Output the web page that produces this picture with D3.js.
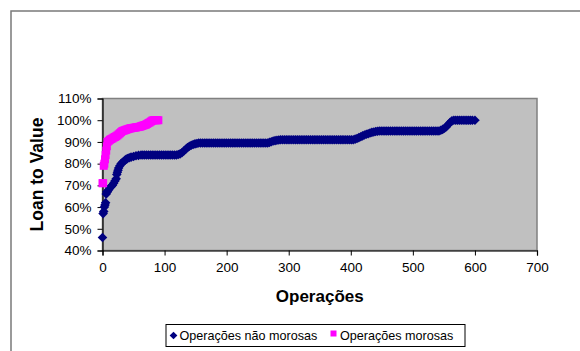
<!DOCTYPE html>
<html>
<head>
<meta charset="utf-8">
<script src="https://cdn.jsdelivr.net/npm/d3@7"></script>
<style>
  html, body { margin: 0; padding: 0; background: #ffffff; }
  svg { display: block; }
  text { font-family: "Liberation Sans", Arial, sans-serif; fill: #000; }
</style>
</head>
<body>
<svg id="chart" width="580" height="351"></svg>
<script>
// Loan-to-value per operation, sorted ascending
const naoMorosasOps = [
  0, 1, 2, 3, 4, 5, 6, 7, 8, 10, 12, 14, 16, 18, 20, 22, 23, 24, 25, 26,
  28, 30, 32, 34, 36, 38, 40, 43, 46, 50, 54, 58,
  62, 65, 68, 71, 74, 77, 80, 83, 86, 89, 92, 95, 98, 101, 104, 107, 110, 113, 116, 119,
  122, 125, 128, 131, 134, 137, 140, 143, 146, 149, 152, 155,
  158, 161, 164, 167, 170, 173, 176, 179, 182, 185, 188, 191, 194, 197, 200, 203, 206, 209, 212, 215,
  218, 221, 224, 227, 230, 233, 236, 239, 242, 245, 248, 251, 254, 257, 260, 263, 266,
  269, 272, 275, 278, 281, 284, 287,
  290, 293, 296, 299, 302, 305, 308, 311, 314, 317, 320, 323, 326, 329, 332, 335, 338, 341, 344, 347,
  350, 353, 356, 359, 362, 365, 368, 371, 374, 377, 380, 383, 386, 389, 392, 395, 398, 401, 404,
  407, 410, 413, 416, 419, 422, 425, 428, 431, 434, 437, 440, 443, 446,
  449, 452, 455, 458, 461, 464, 467, 470, 473, 476, 479, 482, 485, 488, 491, 494, 497, 500, 503, 506,
  509, 512, 515, 518, 521, 524, 527, 530, 533, 536, 539, 542,
  545, 548, 551, 554, 557, 560, 563, 566,
  569, 572, 575, 578, 581, 584, 587, 590, 593, 596, 600
];
const naoMorosasLtv = [
  0.46, 0.57, 0.58, 0.60, 0.61, 0.62, 0.66, 0.67, 0.67, 0.68, 0.69, 0.695, 0.70, 0.71, 0.72, 0.73, 0.75, 0.76, 0.77, 0.78,
  0.79, 0.80, 0.805, 0.81, 0.815, 0.82, 0.823, 0.827, 0.83, 0.833, 0.836, 0.838,
  0.84, 0.84, 0.84, 0.84, 0.84, 0.84, 0.84, 0.84, 0.84, 0.84, 0.84, 0.84, 0.84, 0.84, 0.84, 0.84, 0.84, 0.84, 0.84, 0.84,
  0.842, 0.845, 0.85, 0.858, 0.866, 0.874, 0.88, 0.885, 0.888, 0.891, 0.893, 0.895,
  0.895, 0.895, 0.895, 0.895, 0.895, 0.895, 0.895, 0.895, 0.895, 0.895, 0.895, 0.895, 0.895, 0.895, 0.895, 0.895, 0.895, 0.895, 0.895, 0.895,
  0.895, 0.895, 0.895, 0.895, 0.895, 0.895, 0.895, 0.895, 0.895, 0.895, 0.895, 0.895, 0.895, 0.895, 0.895, 0.895, 0.895,
  0.898, 0.901, 0.904, 0.906, 0.908, 0.909, 0.91,
  0.91, 0.91, 0.91, 0.91, 0.91, 0.91, 0.91, 0.91, 0.91, 0.91, 0.91, 0.91, 0.91, 0.91, 0.91, 0.91, 0.91, 0.91, 0.91, 0.91,
  0.91, 0.91, 0.91, 0.91, 0.91, 0.91, 0.91, 0.91, 0.91, 0.91, 0.91, 0.91, 0.91, 0.91, 0.91, 0.91, 0.91, 0.91, 0.91,
  0.913, 0.916, 0.92, 0.924, 0.928, 0.932, 0.935, 0.938, 0.941, 0.944, 0.946, 0.948, 0.949, 0.95,
  0.95, 0.95, 0.95, 0.95, 0.95, 0.95, 0.95, 0.95, 0.95, 0.95, 0.95, 0.95, 0.95, 0.95, 0.95, 0.95, 0.95, 0.95, 0.95, 0.95,
  0.95, 0.95, 0.95, 0.95, 0.95, 0.95, 0.95, 0.95, 0.95, 0.95, 0.95, 0.95,
  0.954, 0.958, 0.963, 0.97, 0.98, 0.99, 0.997, 1.00,
  1.00, 1.00, 1.00, 1.00, 1.00, 1.00, 1.00, 1.00, 1.00, 1.00, 1.00
];
const morosasOps = [
  0, 1, 2, 3, 4, 5, 6, 7, 8,
  10, 12, 14, 16, 18, 20, 22, 24, 26, 28, 30, 32, 34, 36, 38, 40, 42, 44, 46, 48,
  50, 52, 54, 56, 58, 60, 62, 64, 66, 68, 70, 72, 74, 76, 78, 80, 82, 84, 86, 88, 90
];
const morosasLtv = [
  0.71, 0.71, 0.79, 0.80, 0.82, 0.84, 0.86, 0.88, 0.90,
  0.905, 0.91, 0.913, 0.916, 0.92, 0.923, 0.926, 0.93, 0.935, 0.94, 0.945, 0.95, 0.952, 0.954, 0.956, 0.958, 0.96, 0.962, 0.963, 0.964,
  0.965, 0.966, 0.967, 0.968, 0.969, 0.97, 0.972, 0.974, 0.976, 0.978, 0.98, 0.983, 0.987, 0.99, 0.994, 0.998, 1.00, 1.00, 1.00, 1.00, 1.00
];
const xTicks = [0, 100, 200, 300, 400, 500, 600, 700];
const yTicks = [0.4, 0.5, 0.6, 0.7, 0.8, 0.9, 1.0, 1.1];
const seriesNames = ["Operações não morosas", "Operações morosas"];
const seriesColors = ["#000080", "#ff00ff"];

const svg = d3.select("#chart");

// outer chart frame
svg.append("rect")
  .attr("x", 11).attr("y", 11).attr("width", 600).attr("height", 400)
  .attr("fill", "#fff").attr("stroke", "#7a7a7a").attr("stroke-width", 1.5);

const x = d3.scaleLinear().domain([0, 700]).range([102.5, 537]);
const y = d3.scaleLinear().domain([0.4, 1.1]).range([250.5, 98.5]);

// plot area
svg.append("rect")
  .attr("x", x(0)).attr("y", y(1.1))
  .attr("width", x(700) - x(0)).attr("height", y(0.4) - y(1.1))
  .attr("fill", "#c0c0c0").attr("stroke", "#808080").attr("stroke-width", 1.5);

// axes
const xAxis = d3.axisBottom(x).tickValues(xTicks).tickSize(5).tickPadding(7).tickFormat(d3.format("d"));
const yAxis = d3.axisLeft(y).tickValues(yTicks).tickSize(5).tickPadding(6).tickFormat(d3.format(".0%"));

const gx = svg.append("g").attr("transform", `translate(0,${y(0.4)})`).call(xAxis);
const gy = svg.append("g").attr("transform", `translate(${x(0)},0)`).call(yAxis);
[gx, gy].forEach(g => {
  g.select(".domain").attr("stroke", "#000").attr("stroke-width", 1.2);
  g.selectAll(".tick line").attr("stroke", "#000");
  g.selectAll(".tick text").style("font-size", "13.5px").style("font-family", "Liberation Sans, Arial, sans-serif");
});

// series markers: diamonds for non-defaulted, squares for defaulted
const diamond = d3.symbol(d3.symbolSquare, 46);
const square = d3.symbol(d3.symbolSquare, 64);

svg.append("g").selectAll("path")
  .data(d3.zip(naoMorosasOps, naoMorosasLtv))
  .join("path")
  .attr("d", diamond)
  .attr("transform", d => `translate(${x(d[0])},${y(d[1])}) rotate(45)`)
  .attr("fill", seriesColors[0]);

svg.append("g").selectAll("path")
  .data(d3.zip(morosasOps, morosasLtv))
  .join("path")
  .attr("d", square)
  .attr("transform", d => `translate(${x(d[0])},${y(d[1])})`)
  .attr("fill", seriesColors[1]);

// axis titles
svg.append("text")
  .attr("x", (x(0) + x(700)) / 2).attr("y", 302)
  .attr("text-anchor", "middle")
  .style("font-size", "17px").style("font-weight", "bold")
  .text("Operações");

svg.append("text")
  .attr("transform", `translate(43,${(y(0.4) + y(1.1)) / 2}) rotate(-90)`)
  .attr("text-anchor", "middle")
  .style("font-size", "17.5px").style("font-weight", "bold")
  .text("Loan to Value");

// legend
const lg = svg.append("g");
lg.append("rect")
  .attr("x", 166).attr("y", 324.5).attr("width", 299).attr("height", 22)
  .attr("fill", "#fff").attr("stroke", "#000").attr("stroke-width", 1);
lg.append("path")
  .attr("d", d3.symbol(d3.symbolSquare, 30))
  .attr("transform", "translate(173.5,335.5) rotate(45)")
  .attr("fill", seriesColors[0]);
lg.append("text").attr("x", 179.5).attr("y", 340).style("font-size", "12.6px").text(seriesNames[0]);
lg.append("rect")
  .attr("x", 330.5).attr("y", 330.5).attr("width", 6).attr("height", 6)
  .attr("fill", seriesColors[1]);
lg.append("text").attr("x", 340).attr("y", 340).style("font-size", "12.6px").text(seriesNames[1]);
</script>
</body>
</html>
